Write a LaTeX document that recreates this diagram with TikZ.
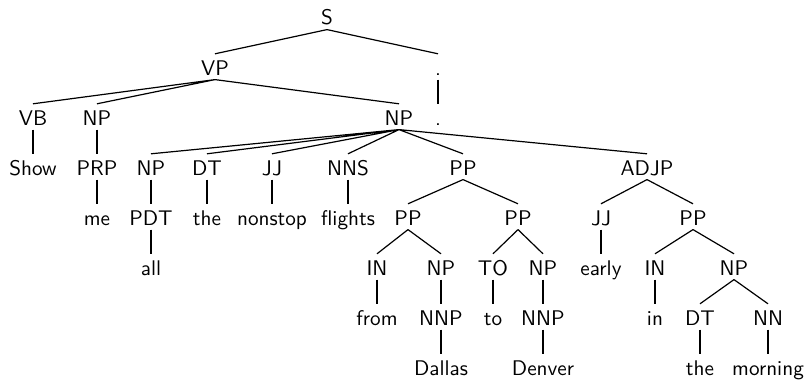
\documentclass[tikz,border=0pt]{standalone}
\begin{document}
\begin{tikzpicture}[x=0.5pt,y=-0.5pt,line width=0.6pt,
    every node/.style={anchor=base,inner sep=0pt,text height=10.3pt,text depth=2pt,
      font=\sffamily\fontsize{10.6}{12}\selectfont}]
      \useasboundingbox (0,0) rectangle (808,380);

      % levels 0-2
      \node (s) at (327,25) {S};
      \node (vp) at (215,75) {VP};
      \node (dota) at (438,75) {.};
      \node (vb) at (33,125) {VB};
      \node (npme) at (97,125) {NP};
      \node (npobj) at (399,125) {NP};
      \node (dotb) at (438,125) {.};

      % level 3
      \node (show) at (33,175) {Show};
      \node (prp) at (97,175) {PRP};
      \node (npall) at (151,175) {NP};
      \node (dta) at (207,175) {DT};
      \node (jja) at (272,175) {JJ};
      \node (nns) at (348,175) {NNS};
      \node (ppa) at (463,175) {PP};
      \node (adjp) at (647,175) {ADJP};

      % level 4
      \node (me) at (97,225) {me};
      \node (pdt) at (151,225) {PDT};
      \node (thea) at (207,225) {the};
      \node (nonstop) at (272,225) {nonstop};
      \node (flights) at (348,225) {flights};
      \node (ppfrom) at (408,225) {PP};
      \node (ppto) at (518,225) {PP};
      \node (jjb) at (601,225) {JJ};
      \node (ppin) at (693,225) {PP};

      % level 5
      \node (all) at (151,275) {all};
      \node (ina) at (377,275) {IN};
      \node (npdal) at (441,275) {NP};
      \node (to) at (493,275) {TO};
      \node (npden) at (543,275) {NP};
      \node (early) at (601,275) {early};
      \node (inb) at (655,275) {IN};
      \node (npmor) at (734,275) {NP};

      % level 6
      \node (from) at (377,325) {from};
      \node (nnpa) at (441,325) {NNP};
      \node (tow) at (493,325) {to};
      \node (nnpb) at (543,325) {NNP};
      \node (in) at (655,325) {in};
      \node (dtb) at (700,325) {DT};
      \node (nn) at (768,325) {NN};

      % level 7
      \node (dallas) at (441,375) {Dallas};
      \node (denver) at (543,375) {Denver};
      \node (theb) at (700,375) {the};
      \node (morning) at (768,375) {morning};

      % edges
      \draw (s.south) -- (vp.north) (s.south) -- (dota.north);
      \draw (vp.south) -- (vb.north) (vp.south) -- (npme.north) (vp.south) -- (npobj.north);
      \draw (dota.south) -- (dotb.north);
      \draw (vb.south) -- (show.north);
      \draw (npme.south) -- (prp.north);
      \draw (prp.south) -- (me.north);
      \draw (npobj.south) -- (npall.north) (npobj.south) -- (dta.north)
        (npobj.south) -- (jja.north) (npobj.south) -- (nns.north)
        (npobj.south) -- (ppa.north) (npobj.south) -- (adjp.north);
      \draw (npall.south) -- (pdt.north);
      \draw (pdt.south) -- (all.north);
      \draw (dta.south) -- (thea.north);
      \draw (jja.south) -- (nonstop.north);
      \draw (nns.south) -- (flights.north);
      \draw (ppa.south) -- (ppfrom.north) (ppa.south) -- (ppto.north);
      \draw (ppfrom.south) -- (ina.north) (ppfrom.south) -- (npdal.north);
      \draw (ina.south) -- (from.north);
      \draw (npdal.south) -- (nnpa.north);
      \draw (nnpa.south) -- (dallas.north);
      \draw (ppto.south) -- (to.north) (ppto.south) -- (npden.north);
      \draw (to.south) -- (tow.north);
      \draw (npden.south) -- (nnpb.north);
      \draw (nnpb.south) -- (denver.north);
      \draw (adjp.south) -- (jjb.north) (adjp.south) -- (ppin.north);
      \draw (jjb.south) -- (early.north);
      \draw (ppin.south) -- (inb.north) (ppin.south) -- (npmor.north);
      \draw (inb.south) -- (in.north);
      \draw (npmor.south) -- (dtb.north) (npmor.south) -- (nn.north);
      \draw (dtb.south) -- (theb.north);
      \draw (nn.south) -- (morning.north);
    \end{tikzpicture}
\end{document}
